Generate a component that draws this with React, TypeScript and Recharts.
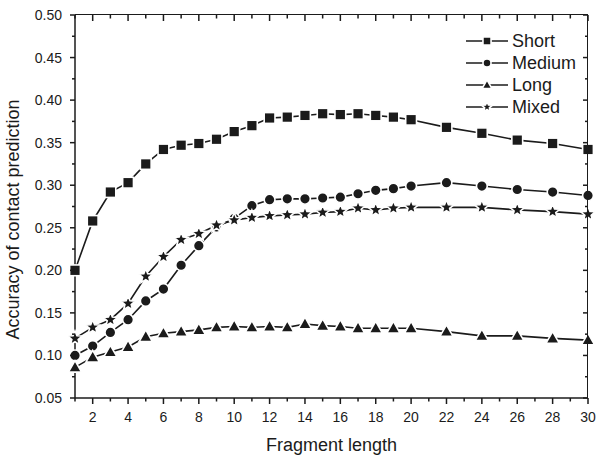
import { LineChart, Line, XAxis, YAxis, Legend } from "recharts";

// fragment length (x) and accuracy values
const fragLength = [1, 2, 3, 4, 5, 6, 7, 8, 9, 10, 11, 12, 13, 14, 15, 16, 17, 18, 19, 20, 22, 24, 26, 28, 30];
const shortAcc = [0.200, 0.258, 0.292, 0.303, 0.325, 0.342, 0.347, 0.349, 0.354, 0.363, 0.370, 0.379, 0.380, 0.382, 0.384, 0.383, 0.384, 0.382, 0.380, 0.377, 0.368, 0.361, 0.353, 0.349, 0.342];
const mediumAcc = [0.100, 0.111, 0.127, 0.142, 0.164, 0.178, 0.206, 0.229, 0.251, 0.261, 0.276, 0.283, 0.284, 0.284, 0.285, 0.286, 0.290, 0.294, 0.296, 0.299, 0.303, 0.299, 0.295, 0.292, 0.288];
const longAcc = [0.086, 0.098, 0.104, 0.110, 0.122, 0.126, 0.128, 0.130, 0.133, 0.134, 0.133, 0.134, 0.133, 0.137, 0.135, 0.134, 0.132, 0.132, 0.132, 0.132, 0.128, 0.123, 0.123, 0.120, 0.118];
const mixedAcc = [0.120, 0.133, 0.142, 0.161, 0.193, 0.216, 0.236, 0.243, 0.253, 0.259, 0.262, 0.264, 0.265, 0.266, 0.268, 0.269, 0.273, 0.271, 0.273, 0.274, 0.274, 0.274, 0.271, 0.269, 0.266];

const xTicks = [1, 2, 3, 4, 5, 6, 7, 8, 9, 10, 11, 12, 13, 14, 15, 16, 17, 18, 19, 20, 21, 22, 23, 24, 25, 26, 27, 28, 29, 30];
const yTicks = [0.05, 0.075, 0.1, 0.125, 0.15, 0.175, 0.2, 0.225, 0.25, 0.275, 0.3, 0.325, 0.35, 0.375, 0.4, 0.425, 0.45, 0.475, 0.5];

const seriesNames = ["Short", "Medium", "Long", "Mixed"];
const seriesKeys = ["short", "medium", "long", "mixed"];

const data = fragLength.map((x, i) => ({
  x,
  short: shortAcc[i],
  medium: mediumAcc[i],
  long: longAcc[i],
  mixed: mixedAcc[i],
}));

const INK = "#1b1b1b";
const FONT = "'Liberation Sans', Arial, sans-serif";

// chart layout
const W = 600;
const H = 458;
const MARGIN = { top: 15, right: 12, left: 0, bottom: 0 };
const Y_AXIS_W = 75;
const X_AXIS_H = 60;
const PLOT_LEFT = MARGIN.left + Y_AXIS_W;
const PLOT_RIGHT = W - MARGIN.right;
const PLOT_TOP = MARGIN.top;
const PLOT_BOTTOM = H - X_AXIS_H;

const isMajorX = (v: number) => v % 2 === 0;
const isMajorY = (v: number) => Math.round(v * 1000) % 50 === 0;

// marker shapes, white outline gives the little gaps in the line
const Marker = ({ kind, cx, cy, s = 1 }: { kind: string; cx: number; cy: number; s?: number }) => {
  const common = { fill: INK, stroke: "#fff", strokeWidth: 1.6 };
  if (kind === "short") return <rect x={cx - 5.4 * s} y={cy - 5.4 * s} width={10.8 * s} height={10.8 * s} {...common} />;
  if (kind === "medium") return <circle cx={cx} cy={cy} r={5.4 * s} {...common} />;
  if (kind === "long")
    return (
      <polygon
        points={`${cx},${cy - 6.8 * s} ${cx + 6.6 * s},${cy + 4.8 * s} ${cx - 6.6 * s},${cy + 4.8 * s}`}
        {...common}
      />
    );
  const pts: string[] = [];
  for (let k = 0; k < 10; k++) {
    const r = (k % 2 === 0 ? 7.6 : 3.3) * s;
    const a = -Math.PI / 2 + (k * Math.PI) / 5;
    pts.push(`${cx + r * Math.cos(a)},${cy + r * Math.sin(a)}`);
  }
  return <polygon points={pts.join(" ")} {...common} />;
};

const makeDot = (kind: string) => (props: any) => {
  const { cx, cy, index } = props;
  if (cx == null || cy == null) return <g key={index} />;
  return <Marker key={index} kind={kind} cx={cx} cy={cy} />;
};

// bottom ticks (outward) + inward ticks on the top frame
const BottomTick = (props: any) => {
  const { x, y, payload } = props;
  const major = isMajorX(payload.value);
  const len = major ? 6 : 3.5;
  return (
    <g>
      <line x1={x} y1={y} x2={x} y2={y + len} stroke={INK} strokeWidth={1.5} />
      <line x1={x} y1={PLOT_TOP} x2={x} y2={PLOT_TOP + len} stroke={INK} strokeWidth={1.5} />
      {major && (
        <text x={x} y={y + 14} dy="0.71em" textAnchor="middle" fontSize={14} fontFamily={FONT} fill={INK}>
          {payload.value}
        </text>
      )}
    </g>
  );
};

// left ticks (outward) + inward ticks on the right frame
const LeftTick = (props: any) => {
  const { x, y, payload } = props;
  const major = isMajorY(payload.value);
  const len = major ? 5 : 3;
  return (
    <g>
      <line x1={x} y1={y} x2={x - len} y2={y} stroke={INK} strokeWidth={1.5} />
      <line x1={PLOT_RIGHT} y1={y} x2={PLOT_RIGHT - len} y2={y} stroke={INK} strokeWidth={1.5} />
      {major && (
        <text x={x - 13} y={y} dy="0.36em" textAnchor="end" fontSize={14} fontFamily={FONT} fill={INK}>
          {payload.value.toFixed(2)}
        </text>
      )}
    </g>
  );
};

const YLabel = (props: any) => {
  const vb = props.viewBox || { x: 0, y: PLOT_TOP, width: Y_AXIS_W, height: PLOT_BOTTOM - PLOT_TOP };
  const cx = vb.x + 19;
  const cy = vb.y + vb.height / 2 + 13;
  return (
    <text x={cx} y={cy} transform={`rotate(-90, ${cx}, ${cy})`} textAnchor="middle" fontSize={18} fontFamily={FONT} fill={INK}>
      Accuracy of contact prediction
    </text>
  );
};

const XLabel = (props: any) => {
  const vb = props.viewBox || { x: PLOT_LEFT, y: PLOT_BOTTOM, width: PLOT_RIGHT - PLOT_LEFT, height: X_AXIS_H };
  return (
    <text x={vb.x + vb.width / 2} y={vb.y + 53} textAnchor="middle" fontSize={18} fontFamily={FONT} fill={INK}>
      Fragment length
    </text>
  );
};

const renderLegend = () => (
  <div style={{ fontFamily: FONT, fontSize: 18, color: INK, lineHeight: "22.2px" }}>
    {seriesKeys.map((k, i) => (
      <div key={k} style={{ display: "flex", alignItems: "center", height: 22.2 }}>
        <svg width={47} height={16} style={{ display: "block" }}>
          <line x1={1} y1={8} x2={43} y2={8} stroke={INK} strokeWidth={1.6} />
          <Marker kind={k} cx={22} cy={8} s={0.75} />
        </svg>
        <span>{seriesNames[i]}</span>
      </div>
    ))}
  </div>
);

export default function App() {
  return (
    <div style={{ position: "absolute", left: 0, top: 0, width: W, height: H, background: "#fff" }}>
      <LineChart width={W} height={H} data={data} margin={MARGIN}>
        <XAxis
          dataKey="x"
          type="number"
          domain={[1, 30]}
          ticks={xTicks}
          interval={0}
          height={X_AXIS_H}
          tickSize={0}
          tickMargin={0}
          tick={<BottomTick />}
          axisLine={{ stroke: INK, strokeWidth: 1.5 }}
          tickLine={false}
          label={<XLabel />}
        />
        <YAxis
          type="number"
          domain={[0.05, 0.5]}
          ticks={yTicks}
          interval={0}
          width={Y_AXIS_W}
          tickSize={0}
          tickMargin={0}
          tick={<LeftTick />}
          axisLine={{ stroke: INK, strokeWidth: 1.5 }}
          tickLine={false}
          label={<YLabel />}
        />
        <Legend
          layout="vertical"
          align="center"
          verticalAlign="middle"
          content={renderLegend}
          wrapperStyle={{ position: "absolute", left: 465, top: 29.5, width: 130, height: "auto" }}
        />
        {seriesKeys.map((k, i) => (
          <Line
            key={k}
            type="linear"
            dataKey={k}
            name={seriesNames[i]}
            stroke={INK}
            strokeWidth={1.6}
            dot={makeDot(k)}
            activeDot={false}
            isAnimationActive={false}
          />
        ))}
      </LineChart>
      {/* top and right edges of the plot frame */}
      <div
        style={{
          position: "absolute",
          left: PLOT_LEFT,
          top: PLOT_TOP - 0.75,
          width: PLOT_RIGHT - PLOT_LEFT - 0.75,
          height: PLOT_BOTTOM - PLOT_TOP,
          borderTop: `1.5px solid ${INK}`,
          borderRight: `1.5px solid ${INK}`,
          pointerEvents: "none",
        }}
      />
    </div>
  );
}
